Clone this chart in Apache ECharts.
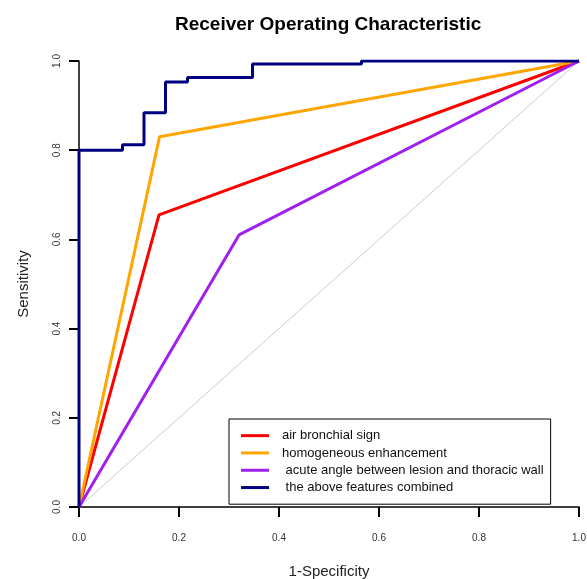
<!DOCTYPE html>
<html>
<head>
<meta charset="utf-8">
<script src="https://cdn.jsdelivr.net/npm/echarts@6/dist/echarts.min.js"></script>
<style>
  html, body { margin: 0; padding: 0; background: #fff; }
  #chart { width: 587px; height: 579px; }
</style>
</head>
<body>
<div id="chart"></div>
<script>
// ROC curve points (1-specificity, sensitivity)
var airFpr = [0, 0.16, 1];
var airTpr = [0, 0.655, 1];
var homoFpr = [0, 0.161, 1];
var homoTpr = [0, 0.83, 1];
var acuteFpr = [0, 0.32, 1];
var acuteTpr = [0, 0.61, 1];
var combFpr = [0, 0, 0.087, 0.087, 0.13, 0.13, 0.173, 0.173, 0.217, 0.217, 0.347, 0.347, 0.565, 0.565, 1];
var combTpr = [0, 0.8, 0.8, 0.812, 0.812, 0.884, 0.884, 0.953, 0.953, 0.963, 0.963, 0.993, 0.993, 1, 1];
var refFpr = [0, 1];
var refTpr = [0, 1];

var seriesNames = ['air bronchial sign', 'homogeneous enhancement', ' acute angle between lesion and thoracic wall', ' the above features combined'];
var seriesColors = ['#ff0000', '#ffa500', '#a020f0', '#000080'];
var tickLabels = ['0.0', '0.2', '0.4', '0.6', '0.8', '1.0'];

function pairs(xs, ys) {
  return xs.map(function (x, i) { return [x, ys[i]]; });
}

var chart = echarts.init(document.getElementById('chart'));

var fontFam = '"Liberation Sans", Arial, sans-serif';

var axisCommon = {
  type: 'value',
  min: 0,
  max: 1,
  interval: 0.2,
  splitLine: { show: false },
  axisLine: { show: true, lineStyle: { color: '#000', width: 1.5 } },
  axisTick: { show: true, length: 10, lineStyle: { color: '#000', width: 2 } },
  nameLocation: 'middle',
  nameTextStyle: { fontFamily: fontFam, fontSize: 15, color: '#222' }
};

var lineSeries = function (name, data, color, width, z) {
  return {
    name: name,
    type: 'line',
    data: data,
    showSymbol: false,
    symbol: 'none',
    lineStyle: { color: color, width: width },
    itemStyle: { color: color },
    z: z,
    animation: false
  };
};

chart.setOption({
  animation: false,
  backgroundColor: '#fff',
  title: {
    text: 'Receiver Operating Characteristic',
    left: 175,
    top: 15,
    padding: 0,
    textStyle: { fontFamily: fontFam, fontSize: 19, fontWeight: 'bold', color: '#000' }
  },
  grid: { left: 79, right: 8, top: 61, bottom: 72, outerBoundsMode: 'none', containLabel: false },
  legend: {
    orient: 'vertical',
    left: 229,
    top: 419,
    padding: [8, 7, 8, 12],
    itemGap: 0,
    itemWidth: 28,
    itemHeight: 3,
    borderColor: '#000',
    borderWidth: 1,
    borderRadius: 0,
    backgroundColor: '#fff',
    textStyle: { fontFamily: fontFam, fontSize: 13, color: '#111', lineHeight: 17.3, padding: [0, 0, 0, 8] },
    data: seriesNames.map(function (n) { return { name: n, icon: 'rect' }; })
  },
  xAxis: Object.assign({}, axisCommon, {
    name: '1-Specificity',
    nameGap: 57,
    axisLabel: {
      margin: 26,
      fontFamily: fontFam,
      fontSize: 10,
      color: '#333',
      formatter: function (v) { return tickLabels[Math.round(v * 5)]; }
    }
  }),
  yAxis: Object.assign({}, axisCommon, {
    name: 'Sensitivity',
    nameGap: 48,
    axisLabel: {
      margin: 17,
      rotate: 90,
      fontFamily: fontFam,
      fontSize: 10,
      color: '#333',
      formatter: function (v) { return tickLabels[Math.round(v * 5)]; }
    }
  }),
  series: [
    lineSeries('reference', pairs(refFpr, refTpr), '#cccccc', 1, 1),
    lineSeries(seriesNames[0], pairs(airFpr, airTpr), seriesColors[0], 3, 2),
    lineSeries(seriesNames[1], pairs(homoFpr, homoTpr), seriesColors[1], 3, 3),
    lineSeries(seriesNames[2], pairs(acuteFpr, acuteTpr), seriesColors[2], 3, 4),
    lineSeries(seriesNames[3], pairs(combFpr, combTpr), seriesColors[3], 3, 5)
  ]
});
</script>
</body>
</html>
